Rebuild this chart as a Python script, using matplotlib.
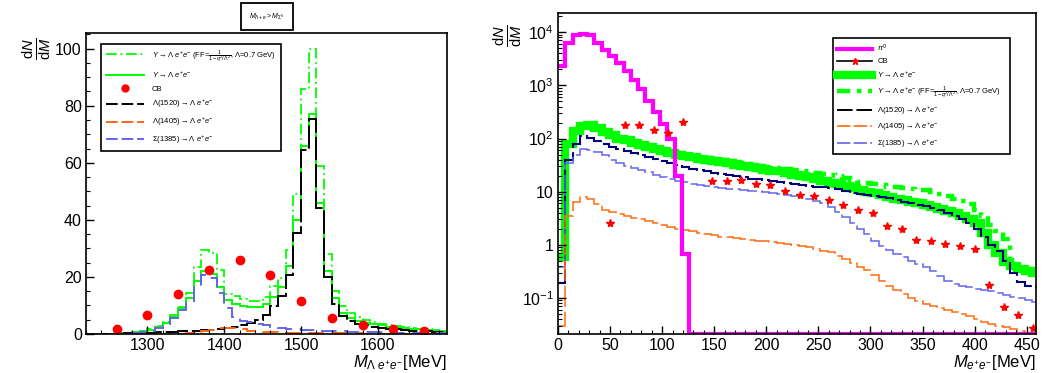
import numpy as np
import matplotlib.pyplot as plt
from matplotlib.lines import Line2D
from matplotlib.ticker import MultipleLocator, LogLocator, NullFormatter

plt.rcParams['font.family'] = ['Liberation Sans', 'DejaVu Sans']
plt.rcParams['mathtext.fontset'] = 'custom'
plt.rcParams['mathtext.rm'] = 'Liberation Sans'
plt.rcParams['mathtext.it'] = 'Liberation Sans:italic'
plt.rcParams['mathtext.bf'] = 'Liberation Sans:bold'

# ---------------------------------------------------------------------------
# left panel: M(Lambda e+e-), 10 MeV bins from 1220 to 1690
# ---------------------------------------------------------------------------
edges_left = np.arange(1220, 1700, 10)

y_ff_left = [0, 0, 0, 0, 0.3, 0.5, 0.7, 1.0, 1.8, 2.8, 4.2, 6.5, 9.5, 14.5, 23.5, 29.5,
             28.5, 22.5, 14.0, 13.2, 12.2, 11.7, 11.7, 13.0, 16.7, 19.5, 29.5, 49, 86, 100,
             59, 28, 15, 9.7, 7.3, 6.0, 5.0, 4.2, 3.6, 3.1, 2.7, 2.4, 2.1, 1.9, 1.7, 1.4, 1.2]
y_left = [0, 0, 0, 0, 0.2, 0.4, 0.6, 0.9, 1.5, 2.5, 4.0, 6.0, 9.0, 12.5, 18.5, 22.0,
          21.0, 16.5, 12.0, 10.5, 9.8, 9.5, 9.5, 10.5, 13.0, 16.5, 24.0, 40, 66, 77,
          46, 22, 12.5, 7.5, 5.5, 4.5, 4.0, 3.5, 3.0, 2.6, 2.3, 2.0, 1.8, 1.6, 1.4, 1.2, 1.0]
l1520_left = [0, 0, 0, 0, 0.1, 0.2, 0.3, 0.4, 0.5, 0.6, 0.7, 0.8, 0.9, 1.0, 1.1, 1.3,
              1.5, 1.8, 2.2, 2.6, 3.2, 3.8, 5.0, 6.8, 9.7, 13.2, 20.5, 35.5, 64.5, 75.5,
              44, 20, 10.6, 6.2, 4.5, 3.6, 3.0, 2.5, 2.1, 1.8, 1.6, 1.4, 1.2, 1.0, 0.9, 0.8, 0.7]
l1405_left = [0, 0, 0, 0, 0, 0.1, 0.1, 0.1, 0.1, 0.1, 0.1, 0.1, 0.1, 0.3, 0.6, 1.0,
              1.5, 2.0, 2.1, 2.0, 1.6, 1.2, 0.9, 0.7, 0.55, 0.5, 0.45, 0.4, 0.35, 0.3,
              0.3, 0.25, 0.25, 0.2, 0.2, 0.2, 0.15, 0.15, 0.15, 0.1, 0.1, 0.1, 0.1, 0.1, 0.1, 0.05, 0.05]
s1385_left = [0, 0, 0, 0, 0.1, 0.2, 0.4, 0.7, 1.2, 2.0, 3.5, 5.5, 8.5, 11.5, 16.5, 20.8,
              19.5, 14.4, 9.1, 5.8, 4.5, 4.2, 3.4, 3.1, 2.4, 2.1, 1.9, 1.6, 1.5, 1.3,
              1.2, 1.1, 1.0, 0.9, 0.8, 0.75, 0.7, 0.65, 0.6, 0.55, 0.5, 0.45, 0.4, 0.4, 0.35, 0.3, 0.3]

cb_x_left = [1260, 1300, 1340, 1380, 1420, 1460, 1500, 1540, 1580, 1620, 1660]
cb_y_left = [1.9, 6.7, 13.9, 22.3, 25.8, 20.7, 11.4, 5.6, 3.0, 1.9, 1.2]

# ---------------------------------------------------------------------------
# right panel: M(e+e-), 7 MeV bins from 0 to 462
# ---------------------------------------------------------------------------
edges_right = np.arange(0, 469, 7)

pi0_right = [2300, 6300, 9000, 9400, 8700, 6300, 4700, 3550, 2600, 1850,
             1260, 840, 510, 310, 185, 100, 20, 0.68] + [0.0] * 48
y_right = [0.6, 80, 140, 175, 180, 160, 135, 115, 100, 92,
           84, 77, 70, 64, 59, 54, 50, 47, 44.5, 42,
           40, 38, 36, 34, 32, 30.5, 29, 27.5, 26, 25,
           24, 22.5, 21, 20, 18.5, 17, 15.8, 14.8, 13.8, 12.8,
           11.8, 10.8, 10, 9.3, 8.7, 8.0, 7.4, 6.9, 6.4, 6.0,
           5.6, 5.2, 4.8, 4.3, 3.9, 3.5, 3.1, 2.6, 1.7, 1.0,
           0.7, 0.48, 0.4, 0.35, 0.32, 0.29]
y_ff_right = [0.6, 80, 142, 178, 183, 163, 138, 118, 103, 95,
              87, 80, 73, 67, 62, 57, 53, 50, 47.5, 45,
              43, 41, 39, 37, 35.5, 34, 32.5, 31, 29.5, 28.5,
              27.5, 26.5, 25.5, 24.5, 23.5, 22.5, 21.5, 20.5, 19.5, 18,
              16.5, 15.2, 14.5, 13.8, 13.2, 12.5, 12, 11.6, 11.2, 10.9,
              10.6, 10, 9.2, 8.2, 7.4, 6.6, 5.8, 4.6, 3.5, 2.4,
              1.8, 1.3, 0.42, 0.36, 0.32, 0.3]
l1520_right = [0.19, 40, 78, 112, 104, 90, 78, 68, 63, 58,
               53, 49, 45, 41, 38, 35, 32, 29.5, 27, 25.5,
               24, 22.5, 21.5, 20.5, 19.5, 18.5, 17.5, 17, 16.5, 16,
               15, 14.5, 14, 13.5, 13, 12.5, 12, 11.7, 11, 10.3,
               9.6, 9.2, 8.8, 8.4, 8.0, 7.5, 7.0, 6.5, 6.0, 5.7,
               5.4, 5.0, 4.5, 4.0, 3.5, 3.0, 2.6, 2.0, 1.4, 1.0,
               0.75, 0.5, 0.3, 0.2, 0.17, 0.16]
l1405_right = [0.03, 3.5, 6.3, 8.0, 7.3, 5.9, 4.6, 4.1, 3.8, 3.5,
               3.2, 3.0, 2.8, 2.6, 2.4, 2.2, 2.0, 1.9, 1.8, 1.7,
               1.6, 1.5, 1.42, 1.38, 1.33, 1.28, 1.24, 1.2, 1.17, 1.12,
               1.07, 1.02, 0.98, 0.94, 0.9, 0.84, 0.78, 0.72, 0.62, 0.53,
               0.45, 0.38, 0.33, 0.27, 0.21, 0.17, 0.14, 0.12, 0.1, 0.088,
               0.078, 0.07, 0.064, 0.06, 0.055, 0.05, 0.046, 0.04, 0.036, 0.033,
               0.03, 0.028, 0.026, 0.024, 0.022, 0.021]
s1385_right = [0.38, 35, 50, 63, 60, 55, 48, 40, 35, 31,
               28, 25.5, 23, 21, 19, 17.5, 16, 15, 14, 13.5,
               12.8, 12, 11.5, 11.2, 11, 10.7, 10.5, 10.3, 10, 9.5,
               9, 8.6, 8.2, 7.8, 7.4, 6.8, 6.0, 5.1, 4.2, 3.4,
               2.6, 2.0, 1.6, 1.2, 0.95, 0.8, 0.68, 0.58, 0.5, 0.44,
               0.39, 0.32, 0.26, 0.21, 0.18, 0.17, 0.16, 0.15, 0.14, 0.135,
               0.125, 0.115, 0.105, 0.1, 0.092, 0.085]

cb_x_right = [50, 64, 78, 92, 106, 120, 148, 162, 176, 190, 204, 218, 232, 246, 260,
              274, 288, 302, 316, 330, 344, 358, 372, 386, 400, 414, 428, 442, 456]
cb_y_right = [2.55, 180, 180, 143, 128, 208, 15.8, 15.8, 16.7, 13.9, 13.5, 10.4, 8.7, 8.2, 7.1,
              5.7, 4.5, 4.0, 2.27, 1.97, 1.24, 1.17, 1.04, 0.93, 0.85, 0.178, 0.069, 0.047, 0.027]

# labels
lab_y = r'$Y \rightarrow \Lambda\ e^{+}e^{-}$'
lab_ff = r'$Y \rightarrow \Lambda\ e^{+}e^{-}$ (FF=$\frac{1}{1-q^{2}/\Lambda^{2}}$, $\Lambda$=0.7 GeV)'
lab_1520 = r'$\Lambda(1520) \rightarrow \Lambda\ e^{+}e^{-}$'
lab_1405 = r'$\Lambda(1405) \rightarrow \Lambda\ e^{+}e^{-}$'
lab_1385 = r'$\Sigma(1385) \rightarrow \Lambda\ e^{+}e^{-}$'

GREEN = '#00ff00'
MAGENTA = '#ff00ff'
NAVY = '#00007a'
LBLUE = '#6464ee'
ORANGE = '#ff6a10'
RED = '#ff0000'

fig = plt.figure(figsize=(10.56, 3.73), dpi=100)
ax1 = fig.add_axes([0.0814, 0.1046, 0.3419, 0.807])
ax2 = fig.add_axes([0.5284, 0.1046, 0.4527, 0.8606])

for ax in (ax1, ax2):
    for s in ax.spines.values():
        s.set_linewidth(1.2)
    ax.tick_params(which='both', direction='in', top=False, right=False, labelsize=11.5, pad=3)
    ax.tick_params(which='major', length=6, width=1.0)
    ax.tick_params(which='minor', length=3, width=0.8)

# ----- left -----
ax1.stairs(y_ff_left, edges_left, baseline=None, color=GREEN, lw=1.3, ls=(0, (6, 2, 1, 2)))
ax1.stairs(y_left, edges_left, baseline=None, color=GREEN, lw=1.4)
ax1.stairs(l1520_left, edges_left, baseline=None, color='black', lw=1.4, ls=(0, (12, 2)))
ax1.stairs(l1405_left, edges_left, baseline=None, color=ORANGE, lw=1.4, ls=(0, (8, 4)))
ax1.stairs(s1385_left, edges_left, baseline=None, color=LBLUE, lw=1.4, ls=(0, (8, 4)))
ax1.plot(cb_x_left, cb_y_left, ls='none', marker='o', ms=6, color=RED, mec=RED)

ax1.set_xlim(1220, 1690)
ax1.set_ylim(0, 105.5)
ax1.xaxis.set_major_locator(MultipleLocator(100))
ax1.xaxis.set_minor_locator(MultipleLocator(20))
ax1.yaxis.set_major_locator(MultipleLocator(20))
ax1.yaxis.set_minor_locator(MultipleLocator(5))

h1 = [Line2D([], [], color=GREEN, lw=1.3, ls=(0, (6, 2, 1, 2))),
      Line2D([], [], color=GREEN, lw=1.4),
      Line2D([], [], ls='none', marker='o', ms=5, color=RED),
      Line2D([], [], color='black', lw=1.4, ls=(0, (6, 2))),
      Line2D([], [], color=ORANGE, lw=1.4, ls=(0, (6, 2))),
      Line2D([], [], color=LBLUE, lw=1.4, ls=(0, (6, 2)))]
l1 = [lab_ff, lab_y, 'CB', lab_1520, lab_1405, lab_1385]
leg1 = ax1.legend(h1, l1, loc='upper left', bbox_to_anchor=(0.042, 0.965, 0.498, 0.0),
                  mode='expand', fontsize=5.5, labelspacing=0.72, handlelength=5.0,
                  handletextpad=1.0, borderpad=0.6, fancybox=False, framealpha=1,
                  edgecolor='black', borderaxespad=0)
leg1.get_frame().set_linewidth(1.2)

fig.text(0.0345, 0.87, r'$\frac{\mathrm{d}N}{\mathrm{d}M}$', rotation=90, fontsize=15,
         ha='center', va='center')
fig.text(0.4233, 0.028, r'$M_{\Lambda\ e^{+}e^{-}}$[MeV]', fontsize=12, ha='right', va='center')
fig.text(0.253, 0.955, r'$M_{\Lambda+e} > M_{\Sigma^{0}}$', fontsize=5, ha='center', va='center',
         bbox=dict(boxstyle='square,pad=1.2', fc='white', ec='black', lw=1.3))

# ----- right -----
YMIN_R = 0.021
ax2.stairs(y_right, edges_right, baseline=None, color=GREEN, lw=6)
ax2.stairs(y_ff_right, edges_right, baseline=None, color=GREEN, lw=3.2, ls=(0, (3, 1.5, 1, 1.5)))
ax2.stairs(l1520_right, edges_right, baseline=None, color=NAVY, lw=1.5, ls=(0, (10, 2)))
ax2.stairs(s1385_right, edges_right, baseline=None, color=LBLUE, lw=1.1, ls=(0, (14, 3)))
ax2.stairs(l1405_right, edges_right, baseline=None, color=ORANGE, lw=1.1, ls=(0, (14, 3)))
ax2.stairs(np.clip(pi0_right, YMIN_R, None), edges_right, baseline=None, color=MAGENTA, lw=3)
ax2.plot(cb_x_right, cb_y_right, ls='none', marker='*', ms=6, color=RED, mec=RED)

ax2.set_yscale('log')
ax2.set_xlim(0, 459)
ax2.set_ylim(YMIN_R, 2.3e4)
ax2.xaxis.set_major_locator(MultipleLocator(50))
ax2.xaxis.set_minor_locator(MultipleLocator(10))
ax2.set_yticks([0.1, 1, 10, 100, 1000, 10000])
ax2.set_yticklabels([r'$10^{-1}$', '1', '10', r'$10^{2}$', r'$10^{3}$', r'$10^{4}$'])
ax2.yaxis.set_minor_locator(LogLocator(base=10, subs=np.arange(2, 10)))
ax2.yaxis.set_minor_formatter(NullFormatter())

h2 = [Line2D([], [], color=MAGENTA, lw=3),
      Line2D([], [], color='black', lw=1.2, marker='*', ms=5, mfc=RED, mec=RED),
      Line2D([], [], color=GREEN, lw=6),
      Line2D([], [], color=GREEN, lw=3.2, ls=(0, (3, 1.5, 1, 1.5))),
      Line2D([], [], color='black', lw=1.4, ls=(0, (8, 2))),
      Line2D([], [], color=ORANGE, lw=1.2, ls=(0, (8, 2))),
      Line2D([], [], color=LBLUE, lw=1.2, ls=(0, (8, 2)))]
l2 = [r'$\pi^{0}$', 'CB', lab_y, lab_ff, lab_1520, lab_1405, lab_1385]
leg2 = ax2.legend(h2, l2, loc='upper left', bbox_to_anchor=(0.575, 0.922, 0.371, 0.0),
                  mode='expand', fontsize=5.5, labelspacing=0.55, handlelength=4.5,
                  handletextpad=0.7, borderpad=0.6, fancybox=False, framealpha=1,
                  edgecolor='black', borderaxespad=0)
leg2.get_frame().set_linewidth(1.2)

fig.text(0.4805, 0.905, r'$\frac{\mathrm{d}N}{\mathrm{d}M}$', rotation=90, fontsize=15,
         ha='center', va='center')
fig.text(0.981, 0.028, r'$M_{e^{+}e^{-}}$[MeV]', fontsize=12, ha='right', va='center')

fig.savefig('out.png', dpi=100)
